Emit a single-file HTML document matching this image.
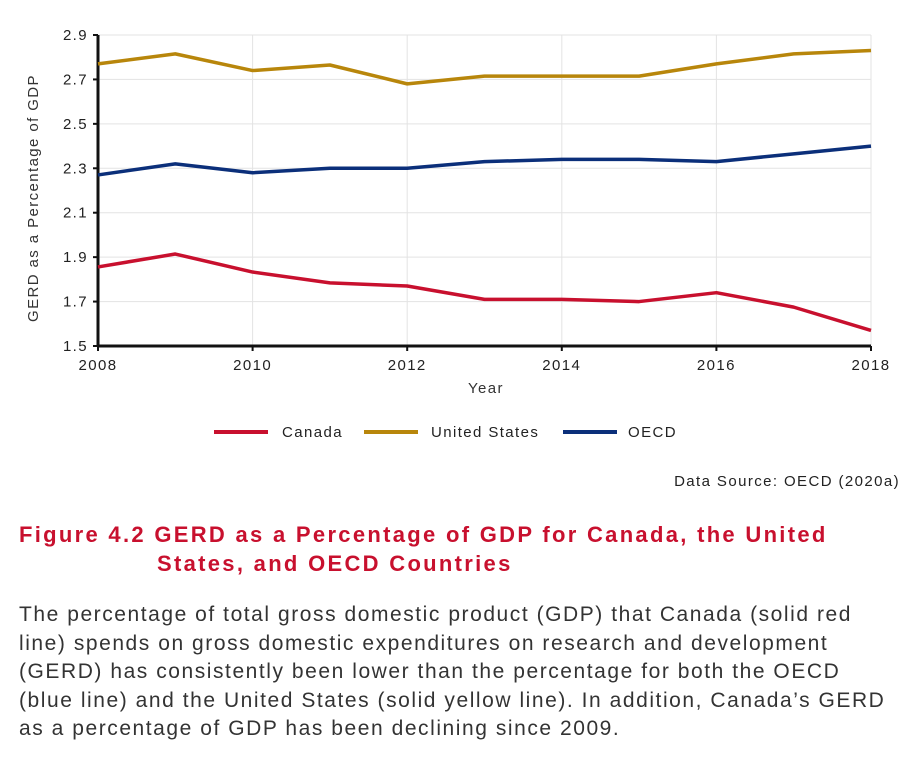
<!DOCTYPE html>
<html><head><meta charset="utf-8"><style>
body{margin:0;background:#fff;width:913px;height:779px;overflow:hidden;font-family:"Liberation Sans",sans-serif;}
svg text{font-family:"Liberation Sans",sans-serif;letter-spacing:1.4px;}
.cap{position:absolute;left:19px;top:520px;color:#c8102e;font-weight:bold;font-size:22px;line-height:29px;letter-spacing:2.3px;white-space:nowrap;}
.desc{position:absolute;left:19px;top:601px;color:#333;font-size:21px;line-height:28.5px;letter-spacing:1.55px;white-space:nowrap;}
</style></head><body>
<svg id="chart" width="913" height="500" style="position:absolute;left:0;top:0">
<g id="grid"></g><g id="axes"></g><g id="lines"></g>
<text transform="translate(38,198) rotate(-90)" text-anchor="middle" font-size="15" fill="#333">GERD as a Percentage of GDP</text>
<text x="486" y="393" text-anchor="middle" font-size="15" fill="#333">Year</text>
<g>
<line x1="214" y1="432" x2="268" y2="432" stroke="#c8102e" stroke-width="4"/><text x="282" y="437" font-size="15" fill="#222">Canada</text>
<line x1="364" y1="432" x2="418" y2="432" stroke="#b8860b" stroke-width="4"/><text x="431" y="437" font-size="15" fill="#222">United States</text>
<line x1="563" y1="432" x2="617" y2="432" stroke="#0b2f7a" stroke-width="4"/><text x="628" y="437" font-size="15" fill="#222">OECD</text>
</g>
<text x="900" y="486" text-anchor="end" font-size="15" fill="#222">Data Source: OECD (2020a)</text>
</svg>
<div class="cap">Figure 4.2 GERD as a Percentage of GDP for Canada, the United<br><span style="padding-left:138px">States, and OECD Countries</span></div>
<div class="desc">The percentage of total gross domestic product (GDP) that Canada (solid red<br>line) spends on gross domestic expenditures on research and development<br>(GERD) has consistently been lower than the percentage for both the OECD<br>(blue line) and the United States (solid yellow line). In addition, Canada’s GERD<br>as a percentage of GDP has been declining since 2009.</div>
<script>
const years=[2008,2009,2010,2011,2012,2013,2014,2015,2016,2017,2018];
const canada=[1.856,1.914,1.833,1.784,1.77,1.71,1.71,1.70,1.74,1.675,1.57];
const us=[2.77,2.815,2.74,2.765,2.68,2.715,2.715,2.715,2.77,2.815,2.83];
const oecd=[2.27,2.32,2.28,2.30,2.30,2.33,2.34,2.34,2.33,2.365,2.40];
const yTicks=[1.5,1.7,1.9,2.1,2.3,2.5,2.7,2.9];
const xTicks=[2008,2010,2012,2014,2016,2018];
const NS="http://www.w3.org/2000/svg";
const X0=98,X1=871,Y0=346,Y1=35;
const xs=v=>X0+(v-2008)/10*(X1-X0);
const ys=v=>Y0-(v-1.5)/1.4*(Y0-Y1);
function mk(t,a,p){const e=document.createElementNS(NS,t);for(const k in a)e.setAttribute(k,a[k]);p.appendChild(e);return e;}
const grid=document.getElementById('grid'),axes=document.getElementById('axes'),lines=document.getElementById('lines');
yTicks.forEach(v=>{
 const g=mk('line',{x1:X0,x2:X1,y1:ys(v),y2:ys(v),stroke:'#e3e3e3','stroke-width':1},grid);
 
 
 mk('line',{x1:X0-5,x2:X0,y1:ys(v),y2:ys(v),stroke:'#111','stroke-width':2},axes);
 const t=mk('text',{x:X0-10,y:ys(v)+5,'text-anchor':'end','font-size':15,fill:'#222'},axes);t.textContent=v.toFixed(1);
 
 
});
xTicks.forEach(v=>{
 if(v>2008){const g=mk('line',{x1:xs(v),x2:xs(v),y1:Y1,y2:Y0,stroke:'#e3e3e3','stroke-width':1},grid);
 
 }
 mk('line',{x1:xs(v),x2:xs(v),y1:Y0,y2:Y0+5,stroke:'#111','stroke-width':2},axes);
 const t=mk('text',{x:xs(v),y:Y0+24,'text-anchor':'middle','font-size':15,fill:'#222'},axes);t.textContent=v;
 
 
});
mk('line',{x1:X0,x2:X0,y1:Y1,y2:Y0+1,stroke:'#111','stroke-width':3},axes);
mk('line',{x1:X0,x2:X1,y1:Y0,y2:Y0,stroke:'#111','stroke-width':3},axes);
[[us,'#b8860b','us-line'],[oecd,'#0b2f7a','oecd-line'],[canada,'#c8102e','canada-line']].forEach(([d,c,n])=>{
 const p=mk('polyline',{points:d.map((v,i)=>xs(years[i])+','+ys(v)).join(' '),fill:'none',stroke:c,'stroke-width':3.5,'stroke-linejoin':'round'},lines);
 
 
});
</script>
</body></html>
